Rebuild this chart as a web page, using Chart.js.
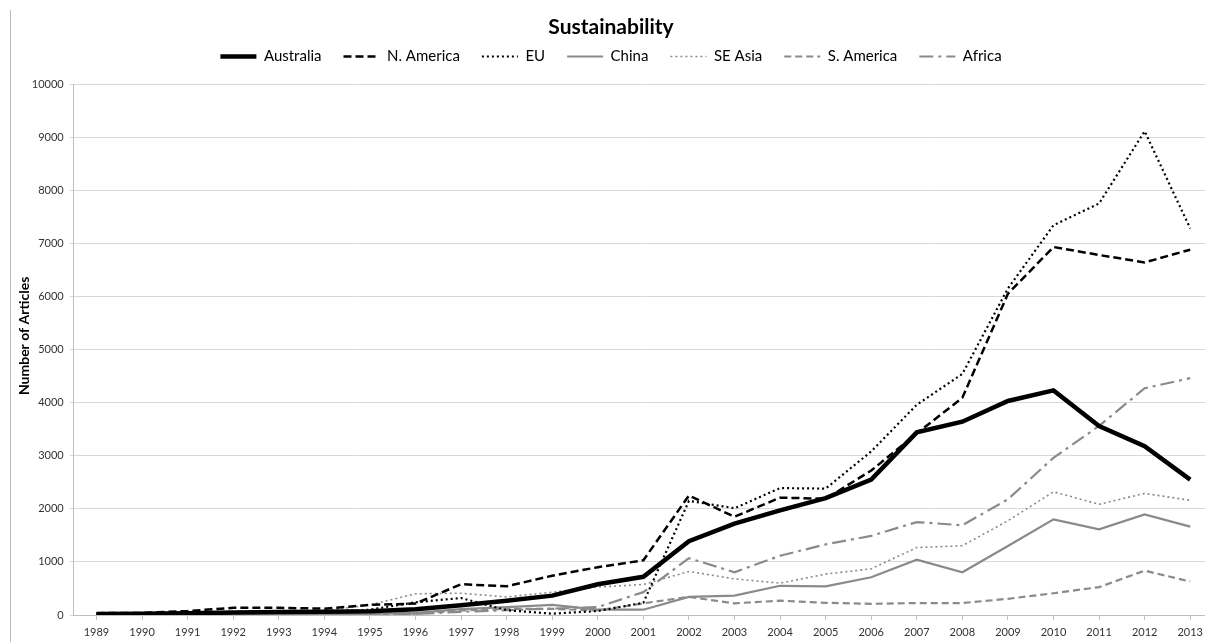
<!DOCTYPE html>
<html>
<head>
<meta charset="utf-8">
<script src="https://cdn.jsdelivr.net/npm/chart.js@4/dist/chart.umd.min.js"></script>
<style>
  html, body { margin: 0; padding: 0; background: #fff; overflow: hidden; }
  #wrap { position: relative; width: 1205px; height: 642px; overflow: hidden; }
  #frame { position: absolute; left: 10px; top: 10px; height: 640px; border-left: 1px solid #bcbcbc; }
  #c { position: absolute; left: 0; top: 0; }
</style>
</head>
<body>
<div id="wrap">
  <canvas id="c" width="1214" height="645"></canvas>
  <div id="frame"></div>
</div>
<script>

// DATA

const years = ["1989", "1990", "1991", "1992", "1993", "1994", "1995", "1996", "1997", "1998",
    "1999", "2000", "2001", "2002", "2003", "2004", "2005", "2006", "2007", "2008",
    "2009", "2010", "2011", "2012", "2013"];

const australia = [20, 25, 35, 45, 55, 60, 70, 110, 185, 270, 365, 580, 720, 1390, 1720, 1970, 2200, 2550, 3440, 3640, 4030, 4230, 3560, 3180, 2550];
const nAmerica  = [35, 40, 75, 135, 135, 120, 190, 215, 580, 540, 740, 900, 1030, 2250, 1850, 2210, 2190, 2720, 3420, 4090, 6050, 6930, 6780, 6640, 6880];
const eu        = [15, 20, 30, 40, 50, 60, 100, 240, 320, 90, 25, 75, 230, 2150, 2010, 2390, 2380, 3080, 3960, 4540, 6150, 7340, 7750, 9110, 7280];
const china     = [5, 5, 10, 10, 15, 15, 20, 40, 110, 150, 190, 100, 100, 340, 365, 550, 540, 710, 1040, 805, 1300, 1800, 1615, 1895, 1665];
const seAsia    = [10, 15, 20, 30, 40, 80, 190, 400, 410, 340, 430, 525, 575, 820, 680, 600, 770, 870, 1270, 1305, 1775, 2320, 2085, 2290, 2160];
const sAmerica  = [5, 5, 5, 10, 10, 10, 15, 20, 85, 115, 115, 85, 220, 340, 220, 270, 230, 210, 225, 225, 305, 410, 525, 835, 630];
const africa    = [0, 0, 5, 5, 5, 10, 10, 20, 60, 90, 120, 150, 430, 1070, 805, 1115, 1330, 1490, 1750, 1690, 2180, 2960, 3560, 4270, 4460];

const yTicks = [0, 1000, 2000, 3000, 4000, 5000, 6000, 7000, 8000, 9000, 10000];


// CHART

const black = "#000000";
const gray = "#8a8a8a";

function series(label, data, color, width, dash) {
    return {
        label: label,
        data: data,
        borderColor: color,
        backgroundColor: color,
        borderWidth: width,
        borderDash: dash,
        pointRadius: 0,
        pointHoverRadius: 0,
        tension: 0,
        fill: false
    };
}

// extra room under the legend, like the excel layout
const legendGap = {
    id: "legendGap",
    beforeInit(chart) {
        const fit = chart.legend.fit;
        chart.legend.fit = function () {
            fit.bind(chart.legend)();
            this.height += 10;
        };
    }
};

const ctx = document.getElementById("c").getContext("2d");

new Chart(ctx, {
    type: "line",
    data: {
        labels: years,
        datasets: [
            series("Australia", australia, black, 4.5, []),
            series("N. America", nAmerica, black, 2.5, [8, 4]),
            series("EU", eu, black, 2.2, [2, 3]),
            series("China", china, gray, 2.2, []),
            series("SE Asia", seAsia, gray, 1.6, [2, 3]),
            series("S. America", sAmerica, gray, 2.2, [7, 4]),
            series("Africa", africa, gray, 2.2, [14, 5, 3, 5])
        ]
    },
    plugins: [legendGap],
    options: {
        responsive: false,
        animation: false,
        layout: { padding: { left: 9, right: 1, top: 17, bottom: 0 } },
        plugins: {
            title: {
                display: true,
                text: "Sustainability",
                color: "#000",
                font: { family: "Lato", size: 21, weight: "bold", lineHeight: 1 },
                padding: { top: 0, bottom: -11 }
            },
            legend: {
                display: true,
                position: "top",
                labels: {
                    usePointStyle: true,
                    pointStyle: "line",
                    pointStyleWidth: 36,
                    color: "#000",
                    font: { family: "Lato", size: 15 },
                    padding: 22,
                    generateLabels: chart => {
                        const items = Chart.defaults.plugins.legend.labels.generateLabels(chart);
                        items.forEach(item => {
                            const ds = chart.data.datasets[item.datasetIndex];
                            item.lineDash = ds.borderDash;
                            item.lineWidth = ds.borderWidth;
                            item.strokeStyle = ds.borderColor;
                            item.fillStyle = ds.borderColor;
                        });
                        return items;
                    }
                }
            },
            tooltip: { enabled: false }
        },
        scales: {
            x: {
                offset: true,
                grid: {
                    display: true,
                    drawOnChartArea: false,
                    color: "#bfbfbf",
                    tickLength: 5
                },
                border: { color: "#bfbfbf" },
                ticks: {
                    color: "#333",
                    font: { family: "Lato", size: 11, lineHeight: 1 },
                    maxRotation: 0,
                    autoSkip: false,
                    padding: 7
                }
            },
            y: {
                min: 0,
                max: 10000,
                afterBuildTicks: axis => { axis.ticks = yTicks.map(v => ({ value: v })); },
                grid: { color: "#d9d9d9", tickLength: 4 },
                border: { color: "#bfbfbf" },
                ticks: {
                    color: "#333",
                    font: { family: "Lato", size: 11 },
                    padding: 6,
                    callback: v => String(v)
                },
                title: {
                    display: true,
                    text: "        Number of Articles",
                    color: "#000",
                    font: { family: "Lato", size: 14, weight: "bold" },
                    padding: { top: 7, bottom: -7 }
                }
            }
        }
    }
});

</script>
</body>
</html>
